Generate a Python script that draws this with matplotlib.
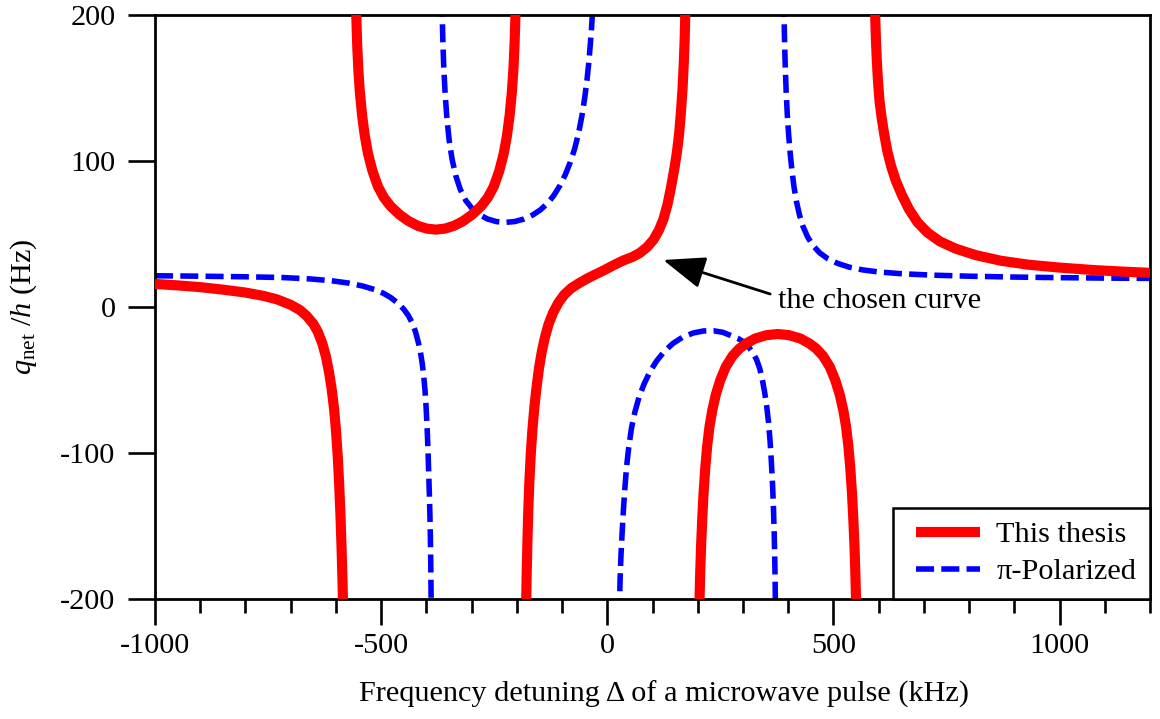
import matplotlib
matplotlib.use("Agg")
import matplotlib.pyplot as plt
from matplotlib.ticker import MultipleLocator
from matplotlib.lines import Line2D
from matplotlib.legend_handler import HandlerLine2D

plt.rcParams.update({
    "font.family": "Liberation Serif",
    "mathtext.fontset": "custom",
    "mathtext.rm": "Liberation Serif",
    "mathtext.it": "Liberation Serif:italic",
    "axes.unicode_minus": False,
    "lines.scale_dashes": False,
})

# ---- q_net/h (Hz) versus detuning (kHz), one list pair per branch ----
# "This thesis" branches
thesis_x_1 = [-1000, -950, -900, -850, -800, -760, -730, -700, -680, -665, -650, -640, -630, -622, -615,
              -609, -604, -600, -596, -593, -590, -587.5, -585.5, -584.5, -583.5]
thesis_y_1 = [15.8, 14.8, 13.6, 11.9, 9.9, 7.6, 5.2, 1.5, -2.0, -6.0, -11.5, -17, -25, -34, -45,
              -57, -70, -84, -102, -120, -142, -165, -187, -200, -212]

thesis_x_2 = [-556, -555, -553, -550.5, -547, -542, -536, -529, -519, -507, -494, -479, -459, -439, -419,
              -399, -379, -359, -339, -319, -299, -279, -264, -251, -239, -229, -222, -216, -211,
              -207.5, -205, -203, -202]
thesis_y_2 = [212, 200, 180, 163, 147, 131, 117, 105, 93, 82.5, 75, 69, 63.2, 58.8, 55.6,
              53.7, 53, 53.7, 55.6, 58.8, 63.2, 69, 75, 82.5, 93, 105, 117, 131, 147,
              163, 180, 200, 212]

thesis_x_3 = [-180, -179.2, -178, -176.5, -174.5, -172, -169, -165.5, -161, -156, -151, -145, -138, -130,
              -120, -108, -95, -80, -62, -45, -25, -5, 15, 35, 55, 72, 88, 102, 114, 124, 133,
              141, 149, 154, 159, 163, 166.5, 169, 171, 172.5, 173]
thesis_y_3 = [-212, -200, -180, -160, -138, -118, -100, -84, -68, -54, -42, -31, -21, -12,
              -4, 3, 8.5, 12.8, 16.4, 19.4, 22.5, 25.5, 28.8, 31.8, 34.2, 37, 41, 46, 52.5, 60, 70,
              82, 96, 106, 119, 134, 150, 166, 182, 200, 212]

thesis_x_4 = [203, 204, 205.5, 207.5, 210, 213, 217, 221, 226, 232, 240, 250, 262, 277, 292, 307, 327,
              352, 377, 402, 427, 447, 462, 477, 492, 504, 514, 522, 528, 533, 537, 541, 544,
              546.5, 548.5, 550, 551]
thesis_y_4 = [-212, -200, -182, -163, -145, -127, -109, -95, -82, -71, -60, -50, -41, -33.5, -28.5, -25,
              -21.6, -19.3, -18.5, -19.3, -21.6, -25, -28.5, -33.5, -41, -50, -60, -71, -82,
              -95, -109, -127, -145, -163, -182, -200, -212]

thesis_x_5 = [591.5, 592.3, 593.8, 595.8, 598.5, 602, 606.5, 612, 619, 627.5, 638, 651, 667, 686, 708,
              735, 770, 815, 870, 930, 1000, 1080, 1150, 1200]
thesis_y_5 = [212, 200, 185, 170, 155, 141, 130, 119, 107, 96.5, 86.5, 77, 67, 58, 51,
              45, 40, 35.5, 31.7, 29, 27, 25.2, 24.1, 23.4]

# "π-Polarized" branches
pi_x_1 = [-1000, -900, -800, -720, -660, -610, -570, -540, -515, -495, -478, -463, -450, -440, -431,
          -424, -418, -413, -409, -406, -403, -400.5, -398.3, -396.4, -394.8, -393.4, -392.2, -391.1,
          -390.2, -389.5, -389.0]
pi_y_1 = [21.4, 21.1, 20.7, 20.2, 19.3, 18.0, 16.3, 14.3, 12.0, 9.4, 6.3, 2.6, -1.5, -5.8, -11,
          -17, -24, -31, -39, -47, -57, -69, -83, -98, -114, -128, -142, -158,
          -178, -200, -214]

pi_x_2 = [-366, -365, -363.5, -361.5, -358.5, -354.5, -349.5, -343, -335, -325, -313, -299, -283, -265,
          -245, -225, -205, -185, -165, -148, -132, -118, -105, -93, -82, -72, -63.5, -56, -50, -45,
          -41, -37.5, -35, -33, -32.3]
pi_y_2 = [212, 200, 182, 164, 146, 129, 114, 101, 90, 80.5, 73, 67.5, 63.3, 60.3,
          58.5, 58, 58.5, 60.2, 63, 66.5, 71, 76.5, 83, 90.5, 99, 108.5, 119, 131, 143, 155,
          167, 180, 190, 200, 212]

pi_x_3 = [26.8, 27.3, 28.5, 30.3, 32.8, 35.5, 38.7, 42.5, 47.5, 53.5, 61, 70, 81, 94, 109, 126, 145,
          166, 190, 213, 235, 255, 273, 289, 302, 313, 322, 330, 337, 343, 348, 352.5, 356.5, 360,
          363, 365.5, 367.5, 369.2, 370.5, 371.3, 371.8, 372]
pi_y_3 = [-212, -200, -185, -170, -155, -140, -125, -110, -96, -83, -72, -62, -53, -44.5, -37, -30.5, -25,
          -20.8, -17.8, -16.4, -16.3, -17.3, -19.5, -21.5, -24, -27.5, -31.5, -36, -42, -50, -58.5, -68,
          -79, -92, -107, -122, -138, -156, -175, -192, -205, -212]

pi_x_4 = [390.3, 390.8, 392, 393.5, 395.5, 398, 401, 404.5, 408.5, 413, 418.5, 425, 433, 443, 455, 470,
          488, 510, 535, 565, 600, 650, 720, 800, 900, 1000, 1100, 1200]
pi_y_4 = [212, 200, 182, 165, 148, 132, 118, 105, 93, 82, 72, 63, 55, 48, 42, 37,
          33, 29.8, 27.3, 25.4, 24, 22.8, 21.8, 21.1, 20.5, 20.1, 19.8, 19.6]

thesis_branches = [(thesis_x_1, thesis_y_1), (thesis_x_2, thesis_y_2), (thesis_x_3, thesis_y_3),
                   (thesis_x_4, thesis_y_4), (thesis_x_5, thesis_y_5)]
pi_branches = [(pi_x_1, pi_y_1), (pi_x_2, pi_y_2), (pi_x_3, pi_y_3), (pi_x_4, pi_y_4)]

x_major_ticks = [-1000, -500, 0, 500, 1000]
y_major_ticks = [-200, -100, 0, 100, 200]

FS = 21.8

fig = plt.figure(figsize=(11.6, 7.19), dpi=100)
ax = fig.add_axes([155 / 1160, 1 - 599 / 719, 995 / 1160, 584 / 719])

for i, (bx, by) in enumerate(thesis_branches):
    ax.plot(bx, by, color="#ff0000", lw=7.3, solid_capstyle="butt", solid_joinstyle="round",
            label="This thesis" if i == 0 else None, zorder=3)

for i, (bx, by) in enumerate(pi_branches):
    ax.plot(bx, by, color="#0000ff", lw=4.0, linestyle=(0, (13, 5.2)), dash_capstyle="butt",
            dash_joinstyle="round", label="\u03c0-Polarized" if i == 0 else None, zorder=2)

ax.set_xlim(-1000, 1200)
ax.set_ylim(-200, 200)
ax.set_xticks(x_major_ticks)
ax.set_yticks(y_major_ticks)
ax.xaxis.set_minor_locator(MultipleLocator(100))

for s in ax.spines.values():
    s.set_linewidth(2.0)

ax.tick_params(axis="x", which="major", direction="out", length=18.7, width=1.9, pad=6,
               labelsize=FS, top=False)
ax.tick_params(axis="x", which="minor", direction="out", length=9.9, width=1.9, top=False)
ax.tick_params(axis="y", which="major", direction="out", length=19.4, width=1.9, pad=9,
               labelsize=FS, right=False)

ax.set_xlabel("Frequency detuning \u0394 of a microwave pulse (kHz)", fontsize=FS)
ax.set_ylabel(r"$q_{\rm net}$ /$h$ (Hz)", fontsize=FS)
ax.xaxis.set_label_coords(0.512, -0.140)
ax.yaxis.set_label_coords(-0.117, 0.5)

# arrow pointing at the selected branch
ax.annotate("", xy=(123.8, 32.2), xytext=(360.2, 8.9),
            arrowprops=dict(arrowstyle="-|>,head_length=1.3,head_width=0.5", color="black",
                            lw=2.0, shrinkA=0, shrinkB=0, mutation_scale=20))
ax.text(378, -0.9, "the chosen curve", fontsize=FS, ha="left", va="baseline")

leg = ax.legend(loc="lower right", fontsize=FS, frameon=True, fancybox=False, framealpha=1,
                edgecolor="black", borderaxespad=0, borderpad=0.45, handlelength=2.42,
                handletextpad=0.53, labelspacing=0.32,
                handler_map={Line2D: HandlerLine2D(xpad=0.31)})
leg.get_frame().set_linewidth(1.8)

fig.savefig("out.png", dpi=100)
